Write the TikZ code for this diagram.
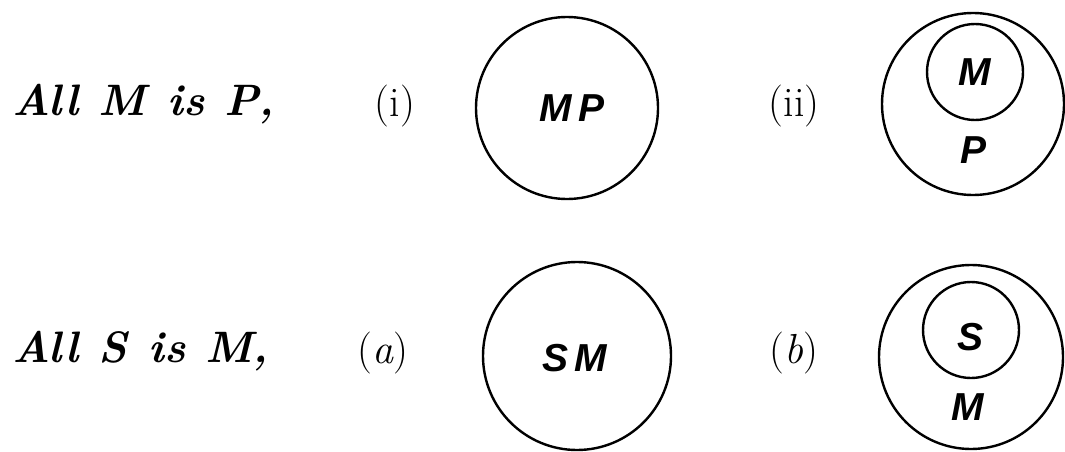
\documentclass[tikz,border=0pt]{standalone}
\usepackage{fontspec}
\setsansfont{Liberation Sans}
\begin{document}
\begin{tikzpicture}[x=1pt,y=1pt,
  ring/.style={circle,draw,line width=2.4pt,inner sep=0pt},
  prop/.style={anchor=base west,inner sep=0pt,font=\fontsize{44}{48}\selectfont\bfseries\itshape},
  tag/.style={anchor=base,inner sep=0pt,font=\fontsize{42}{46}\selectfont},
  lett/.style={inner sep=0pt,font=\fontsize{39}{42}\selectfont\sffamily\bfseries\itshape}]
\useasboundingbox (0,0) rectangle (1065,451);
% row 1
\node[prop] (p1) at (12,336) {All\hspace{0.45em}M\hspace{0.5em}is\hspace{0.45em}P,};
\node[tag] (t1) at (395,335) {(i)};
\node[ring,minimum size=182pt] (c1) at (567,343) {};
\node[lett] (l1) at (572,343) {M\,P};
\node[tag] (t2) at (794,335) {(ii)};
\node[ring,minimum size=182pt] (c2) at (973,347) {};
\node[ring,minimum size=96pt] (c3) at (975,379) {};
\node[lett] (l2) at (975,379) {M};
\node[lett] (l3) at (973,301) {P};
% row 2
\node[prop] (p2) at (12,89) {All\hspace{0.45em}S\hspace{0.5em}is\hspace{0.45em}M,};
\node[tag] (t3) at (383,88) {(\textit{a})};
\node[ring,minimum size=188pt] (c4) at (577,95) {};
\node[lett] (l4) at (575,93) {S\,M};
\node[tag] (t4) at (794,88) {(\textit{b})};
\node[ring,minimum size=184pt] (c5) at (971,94) {};
\node[ring,minimum size=96pt] (c6) at (971,121) {};
\node[lett] (l5) at (970,114) {S};
\node[lett] (l6) at (968,44) {M};
\end{tikzpicture}
\end{document}
